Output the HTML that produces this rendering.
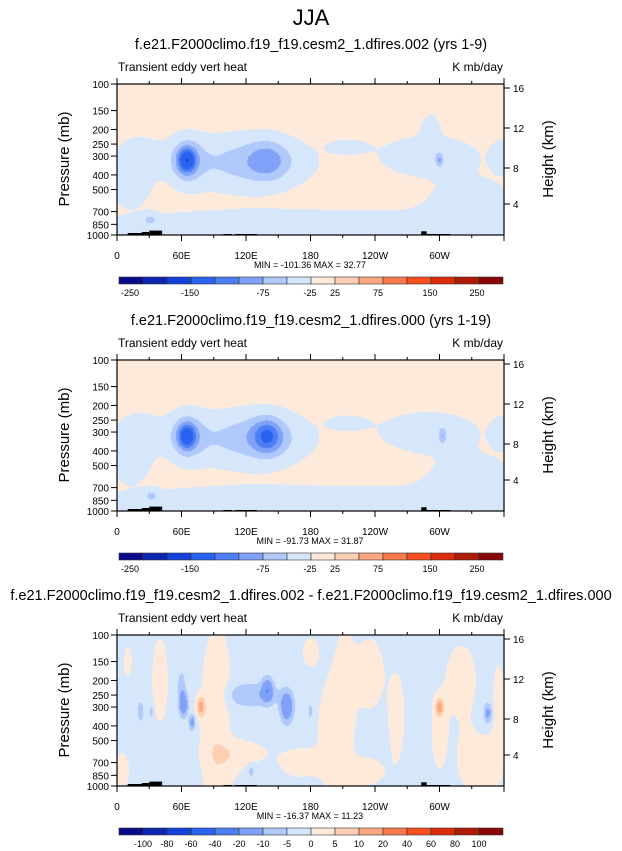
<!DOCTYPE html>
<html><head><meta charset="utf-8"><style>
html,body{margin:0;padding:0;background:#fff;}
#root{position:relative;width:622px;height:851px;overflow:hidden;font-family:"Liberation Sans",sans-serif;color:#000;}
canvas{position:absolute;}
</style></head><body>
<div id="root">
<svg id="svg" width="622" height="851" style="position:absolute;left:0;top:0;z-index:1"></svg>
</div>
<script>
// ---- data ----
const lonTicks = [0,60,120,180,240,300];
const lonLabels = ["0","60E","120E","180","120W","60W"];
const presTicks = [100,150,200,250,300,400,500,700,850,1000];
const heightTicks = [16,12,8,4];
const heightTickY = [4,44,84,120]; // offset from plot top (km axis)
const levelsA = [-250,-200,-150,-100,-75,-50,-25,0,25,50,75,100,150,200,250];
const levelsB = [-100,-80,-60,-40,-20,-10,-5,0,5,10,20,40,60,80,100];
const cbLabelsA = ["-250","-150","-75","-25","25","75","150","250"];
const cbLabelPosA = [130,190,263,310,335,378,430,477];
const cbLabelsB = ["-100","-80","-60","-40","-20","-10","-5","0","5","10","20","40","60","80","100"];
const colors = ["#0a0a8a","#0c26b2","#1440da","#2a62f0","#4c7ef5","#7fa2f8","#b0c8fa","#d6e7fc","#feeada","#fdcfb2","#fba882","#f87a4c","#f5501e","#de2b0a","#b01b06","#870505"];
// blobs: [lon, pressure, amplitude, lonWidth, logpWidth]
const baseA = 10;
const blobs1 = [[120,330,-45,55,0.17],[65,320,-100,8,0.08],[65,320,-45,16,0.15],[140,320,-45,18,0.12],[290,300,-28,45,0.13],[300,320,-40,3,0.04],[20,310,-26,22,0.14],[358,300,-25,10,0.1],[180,950,-25,250,0.15],[330,600,-22,40,0.16],[12,500,-22,18,0.1],[31,790,-30,7,0.04],[292,200,-25,8,0.1],[215,260,-20,18,0.05]];
const blobs2 = [[120,330,-45,55,0.17],[65,320,-90,8,0.08],[65,320,-45,16,0.15],[140,320,-55,12,0.1],[140,320,-30,20,0.14],[290,300,-28,45,0.13],[303,320,-35,3,0.05],[20,310,-26,22,0.14],[358,300,-25,10,0.1],[180,950,-25,250,0.15],[330,600,-22,40,0.16],[12,500,-22,18,0.1],[32,790,-30,7,0.04],[215,260,-20,18,0.05]];
const baseB = -1.5;
const blobs3 = [[62,290,-14,4,0.08],[70,380,-12,3,0.05],[60,220,-6,4,0.12],[78,300,13,4,0.07],[140,230,-14,5,0.08],[158,300,-16,6,0.1],[125,250,-8,25,0.08],[300,300,13,4,0.06],[345,330,-11,4,0.07],[22,320,-7,3,0.07],[32,320,-6,2,0.05],[90,400,4,12,0.5],[200,450,3.5,14,0.4],[235,180,3.5,14,0.25],[320,200,3.5,15,0.25],[345,700,3.5,15,0.2],[5,750,3.5,6,0.1],[115,600,3.5,25,0.08],[300,450,3.5,8,0.25],[10,150,3.5,4,0.1],[180,320,-6,2,0.06],[125,800,-6,3,0.04],[40,200,3.5,8,0.3],[95,200,3.5,10,0.3],[100,700,3.5,15,0.15],[170,700,3.5,20,0.1],[212,250,3,10,0.5],[260,350,3.5,8,0.3],[325,650,3,10,0.2],[355,300,3.5,6,0.3],[230,800,3.5,20,0.1],[180,130,3.5,8,0.1],[0,900,3.5,8,0.08]];
// topography: [lonStart, lonEnd, pressureTop]
const topo = [[10,23,970],[23,30,955],[30,42,935],[99,107,985],[110,130,985],[283,288,945],[288,310,985]];

// ---- helpers ----
const X0=117, W=387, H=151;
const svg=document.getElementById('svg'), NS='http://www.w3.org/2000/svg';
function xs(lon){return X0+lon/360*W;}
function ys(top,p){return top+(Math.log10(p)-2)*H;}
function el(tag,attrs,name,inter,txt){const e=document.createElementNS(NS,tag);for(const k in attrs)e.setAttribute(k,attrs[k]);


if(txt!==undefined)e.textContent=txt;svg.appendChild(e);return e;}
function text(x,y,s,size,anchor,name,extra){return el('text',Object.assign({x:x,y:y,'font-size':size,'text-anchor':anchor||'middle','font-family':'Liberation Sans, sans-serif'},extra||{}),name,'false',s);}
function field(base,blobs,lon,p){let v=base;const z=Math.log10(p);for(const b of blobs){const dl=(lon-b[0])/b[3],dz=(z-Math.log10(b[1]))/b[4];v+=b[2]*Math.exp(-dl*dl-dz*dz);}return v;}
function colorFor(v,levels){let i=0;while(i<levels.length&&v>=levels[i])i++;return colors[i];}

text(311,25,"JJA",22,'middle','main-title');

function panel(top,title,base,blobs,levels,minmax,cbTop,key){
  text(311,top-35,title,14.5,'middle',key+'-title');
  text(118,top-13,"Transient eddy vert heat",12,'start',key+'-left-string');
  text(503,top-13,"K mb/day",12,'end',key+'-units');
  const c=document.createElement('canvas');c.width=W;c.height=H;c.style.left=X0+'px';c.style.top=top+'px';
  
  
  document.getElementById('root').insertBefore(c,svg);
  const ctx=c.getContext('2d');
  for(let j=0;j<H;j++){const p=Math.pow(10,2+(j+0.5)/H);
    for(let i=0;i<W;i++){const lon=(i+0.5)/W*360;ctx.fillStyle=colorFor(field(base,blobs,lon,p),levels);ctx.fillRect(i,j,1,1);}}
  for(const t of topo){el('rect',{x:xs(t[0]),y:ys(top,t[2]),width:xs(t[1])-xs(t[0]),height:top+H-ys(top,t[2]),fill:'#000'},key+'-topography','false');}
  el('rect',{x:X0,y:top,width:W,height:H,fill:'none',stroke:'#000','stroke-width':1.2},key+'-plot-frame','false');
  for(let lon=0;lon<=360;lon+=30){const x=xs(lon),L=lon%60===0?6:3;
    el('line',{x1:x,y1:top,x2:x,y2:top-L,stroke:'#000'},key+'-top-tick','false');
    el('line',{x1:x,y1:top+H,x2:x,y2:top+H+L,stroke:'#000'},key+'-x-tick','false');}
  lonTicks.forEach((lon,i)=>text(xs(lon),top+H+24,lonLabels[i],10,'middle',key+'-x-label-'+lonLabels[i]));
  presTicks.forEach(p=>{const y=ys(top,p);el('line',{x1:X0,y1:y,x2:X0-6,y2:y,stroke:'#000'},key+'-y-tick','false');
    text(X0-8,y+4,String(p),10,'end',key+'-y-label-'+p);});
  heightTicks.forEach((h,i)=>{const y=top+heightTickY[i];el('line',{x1:X0+W,y1:y,x2:X0+W+6,y2:y,stroke:'#000'},key+'-height-tick','false');
    text(X0+W+9,y+4,String(h),10,'start',key+'-height-label-'+h);});
  text(69,top+75,"Pressure (mb)",15,'middle',key+'-y-axis-title',{transform:'rotate(-90 69 '+(top+75)+')'});
  text(553,top+75,"Height (km)",15,'middle',key+'-right-axis-title',{transform:'rotate(-90 553 '+(top+75)+')'});
  text(310,top+H+33,minmax,9,'middle',key+'-min-max');
  const bw=384/16;
  colors.forEach((col,i)=>el('rect',{x:119+i*bw,y:cbTop,width:bw,height:7,fill:col,stroke:'#333','stroke-width':0.6},key+'-colorbar-box','false'));
  if(levels===levelsA){cbLabelsA.forEach((s,i)=>text(cbLabelPosA[i],cbTop+19,s,9,'middle',key+'-colorbar-label'));}
  else{cbLabelsB.forEach((s,i)=>text(119+(i+1)*bw,cbTop+19,s,9,'middle',key+'-colorbar-label'));}
}
panel(84,"f.e21.F2000climo.f19_f19.cesm2_1.dfires.002 (yrs 1-9)",baseA,blobs1,levelsA,"MIN = -101.36  MAX =  32.77",277,'panel1');
panel(360,"f.e21.F2000climo.f19_f19.cesm2_1.dfires.000 (yrs 1-19)",baseA,blobs2,levelsA,"MIN = -91.73  MAX =  31.87",553,'panel2');
panel(635,"f.e21.F2000climo.f19_f19.cesm2_1.dfires.002 - f.e21.F2000climo.f19_f19.cesm2_1.dfires.000",baseB,blobs3,levelsB,"MIN = -16.37  MAX =  11.23",828,'panel3');
</script>
</body></html>
